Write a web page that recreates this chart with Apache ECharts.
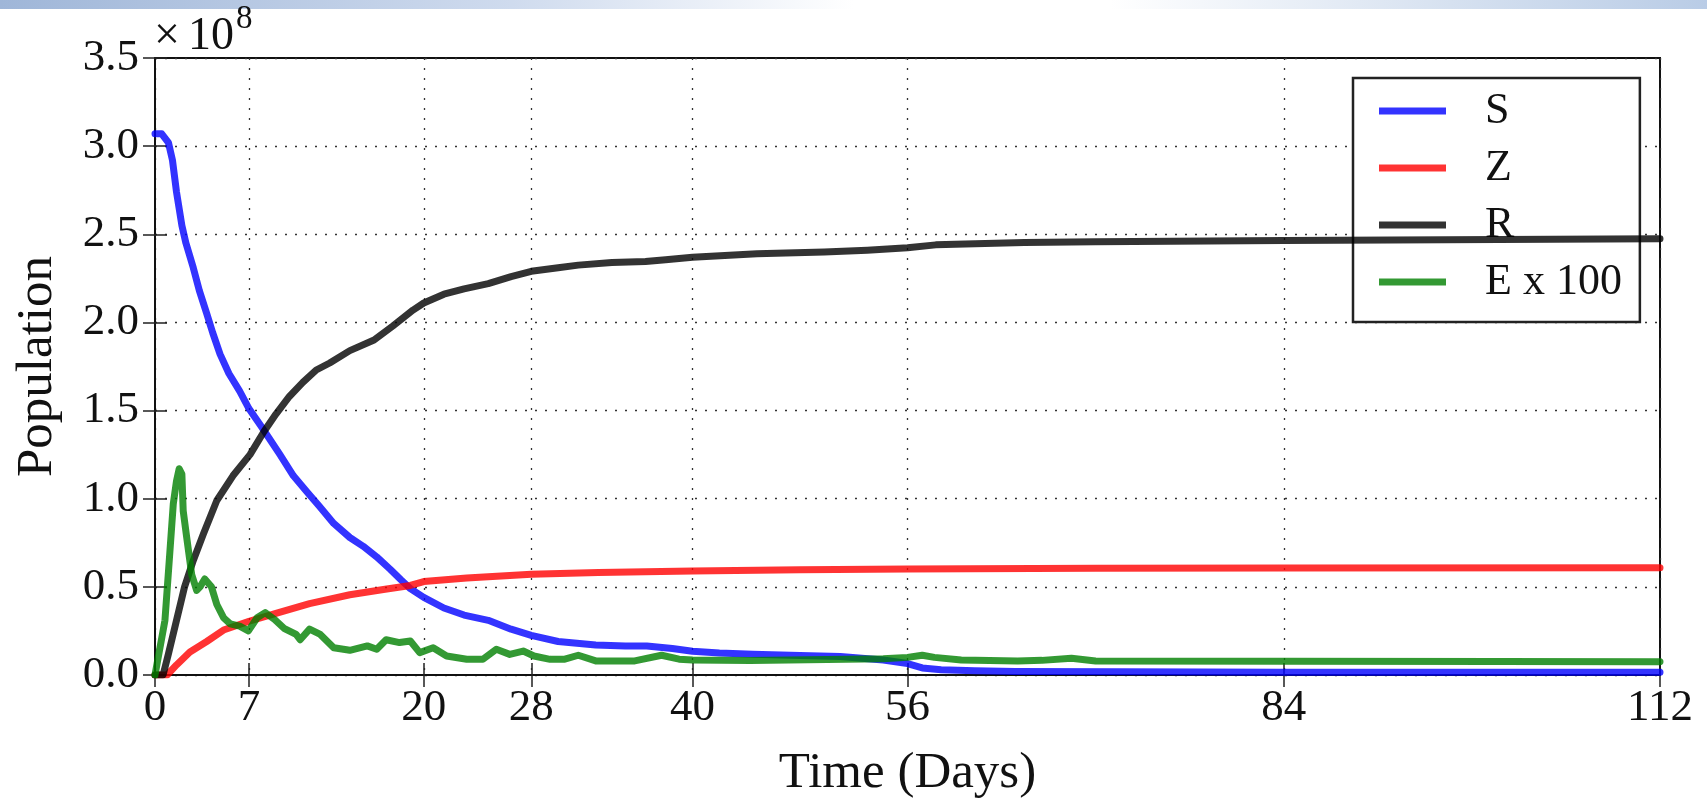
<!DOCTYPE html>
<html>
<head>
<meta charset="utf-8">
<script src="https://cdn.jsdelivr.net/npm/echarts@6/dist/echarts.min.js"></script>
<style>
html,body{margin:0;padding:0;background:#fff;}
#chart{width:1707px;height:799px;}
</style>
</head>
<body>
<div id="chart"></div>
<script>
// Values are in units of 1e8 (axis shows "x10^8")
const xTicks = [0, 7, 20, 28, 40, 56, 84, 112];
const yTickLabels = ['0.0','0.5','1.0','1.5','2.0','2.5','3.0','3.5'];
const seriesNames = ['S', 'Z', 'R', 'E x 100'];

const sDays = [0,0.5,1.0,1.3,1.6,2.0,2.3,2.85,3.3,3.85,4.3,4.84,5.5,6.3,7.0,8.0,9.3,10.3,11.3,12.2,13.3,14.5,15.5,16.5,17.5,18.3,19.0,20.0,21.5,23.0,24.8,26.5,28.0,30.0,32.8,35.0,36.6,38.5,40.0,42.0,44.5,48.0,51.0,54.2,56.0,57.1,58.5,61.0,64.0,72.0,84.0,112];
const sValues = [3.07,3.07,3.02,2.92,2.74,2.55,2.45,2.31,2.18,2.05,1.94,1.82,1.71,1.61,1.51,1.40,1.25,1.13,1.04,0.96,0.86,0.78,0.73,0.67,0.60,0.54,0.49,0.44,0.38,0.34,0.31,0.26,0.225,0.19,0.17,0.165,0.165,0.15,0.135,0.125,0.118,0.11,0.105,0.085,0.065,0.04,0.03,0.024,0.02,0.018,0.016,0.015];

const zDays = [0,0.9,1.6,2.6,3.85,5.1,7.0,9.0,11.5,14.5,17.0,19.0,20.0,23.2,28.0,33.0,40.0,48.0,56.0,70.0,84.0,112];
const zValues = [0,0,0.057,0.13,0.19,0.255,0.305,0.35,0.405,0.455,0.485,0.508,0.53,0.55,0.572,0.582,0.59,0.597,0.602,0.606,0.607,0.608];

const rDays = [0,0.6,1.0,1.6,2.2,2.85,3.6,4.6,5.8,7.07,8.1,9.0,10.0,11.0,12.0,13.0,14.5,16.3,17.7,19.2,20.0,21.5,23.0,24.8,26.5,28.0,30.0,31.5,34.0,36.5,38.0,40.0,44.8,49.8,53.0,56.0,58.1,64.7,70.0,84.0,100.0,112];
const rValues = [0,0,0.12,0.31,0.5,0.65,0.80,0.99,1.13,1.25,1.38,1.48,1.58,1.66,1.73,1.77,1.84,1.90,1.98,2.07,2.11,2.16,2.19,2.22,2.26,2.29,2.31,2.325,2.34,2.345,2.355,2.37,2.39,2.40,2.41,2.424,2.44,2.453,2.458,2.465,2.47,2.475];

const eDays = [0,0.12,0.74,1.1,1.36,1.6,1.8,2.0,2.1,2.36,2.73,3.1,3.35,3.7,4.2,4.6,5.1,5.6,6.3,6.95,7.6,8.2,8.9,9.6,10.5,10.8,11.5,12.3,13.3,14.5,15.8,16.5,17.2,18.2,19.0,19.7,20.7,21.7,23.2,24.4,25.4,26.4,27.4,28.2,29.4,30.5,31.5,32.8,35.7,37.7,39.0,40.0,44.3,50.0,54.2,56.0,57.1,58.0,60.0,64.2,66.0,68.2,70.0,84.0,100.0,112];
const eValues = [0,0,0.31,0.69,0.97,1.1,1.17,1.14,0.93,0.78,0.57,0.48,0.5,0.545,0.5,0.40,0.325,0.29,0.277,0.25,0.325,0.354,0.315,0.265,0.23,0.2,0.26,0.23,0.155,0.14,0.165,0.146,0.2,0.184,0.193,0.127,0.155,0.108,0.089,0.089,0.146,0.117,0.136,0.108,0.089,0.09,0.112,0.08,0.08,0.112,0.09,0.085,0.082,0.088,0.092,0.1,0.112,0.1,0.085,0.08,0.083,0.095,0.08,0.078,0.077,0.075];

const colors = ['rgba(0,0,255,0.8)','rgba(255,0,0,0.8)','rgba(0,0,0,0.8)','rgba(0,128,0,0.8)'];

function zip(a, b){ return a.map((d, i) => [d, b[i]]); }
const allData = [zip(sDays, sValues), zip(zDays, zValues), zip(rDays, rValues), zip(eDays, eValues)];

const FONT = '"Liberation Serif", "DejaVu Serif", serif';
const chart = echarts.init(document.getElementById('chart'));

const dotted = {color:'#333', width:1.3, type:[2,8]};
const tick = {show:true, inside:true, length:12, lineStyle:{color:'#222', width:1.5}};
const axLine = {show:true, lineStyle:{color:'#111', width:2}};

chart.setOption({
  animation:false,
  backgroundColor:'#fff',
  graphic:[
    {type:'rect', left:0, top:0, shape:{width:1707, height:9}, style:{fill:new echarts.graphic.LinearGradient(0,0,1,0,[
      {offset:0, color:'#9fb6d8'},{offset:0.3, color:'#cfdbee'},{offset:0.5, color:'#ffffff'},{offset:0.65, color:'#ffffff'},{offset:0.85, color:'#d6e1f0'},{offset:1, color:'#b9cce6'}])}, z:-1},
    {type:'text', left:154, top:14, style:{text:'×', font:'46px ' + FONT, fill:'#111'}},
    {type:'text', left:188, top:14, style:{text:'10', font:'46px ' + FONT, fill:'#111'}},
    {type:'text', left:236, top:3, style:{text:'8', font:'33px ' + FONT, fill:'#111'}}
  ],
  grid:{left:155, right:47, top:58, bottom:124, outerBoundsMode:'none', containLabel:false,
        show:true, borderColor:'#111', borderWidth:2, backgroundColor:'transparent'},
  legend:{
    show:true, orient:'vertical', left:1353, top:78,
    data:seriesNames, selectedMode:false,
    icon:'rect', itemWidth:67, itemHeight:7, itemGap:13,
    padding:[11,18,18,26],
    backgroundColor:'#fff', borderColor:'#222', borderWidth:2.5,
    textStyle:{fontFamily:FONT, fontSize:44, color:'#111', padding:[0,0,0,34]}
  },
  xAxis:[
    {type:'value', min:0, max:112, position:'bottom',
     name:'Time (Days)', nameLocation:'middle', nameGap:73,
     nameTextStyle:{fontFamily:FONT, fontSize:51, color:'#111'},
     axisLine:axLine, axisTick:Object.assign({customValues:xTicks}, tick),
     axisLabel:{customValues:xTicks, fontFamily:FONT, fontSize:45, color:'#111', margin:11},
     splitLine:{show:true, lineStyle:dotted}},
    {type:'value', min:0, max:112, position:'top',
     axisLine:axLine, axisTick:Object.assign({customValues:xTicks}, tick),
     axisLabel:{show:false}, splitLine:{show:false}}
  ],
  yAxis:[
    {type:'value', min:0, max:3.5, interval:0.5, position:'left',
     name:'Population', nameLocation:'middle', nameGap:92,
     nameTextStyle:{fontFamily:FONT, fontSize:51, color:'#111'},
     axisLine:axLine, axisTick:tick,
     axisLabel:{fontFamily:FONT, fontSize:45, color:'#111', margin:16,
       formatter:(v) => yTickLabels[Math.round(v/0.5)]},
     splitLine:{show:true, lineStyle:dotted}},
    {type:'value', min:0, max:3.5, interval:0.5, position:'right',
     axisLine:axLine, axisTick:tick, axisLabel:{show:false}, splitLine:{show:false}}
  ],
  series: seriesNames.map((n, i) => ({
    name:n, type:'line', data:allData[i], xAxisIndex:0, yAxisIndex:0,
    showSymbol:false, symbol:'none', smooth:false,
    itemStyle:{color:colors[i]},
    lineStyle:{color:colors[i], width:7, cap:'round', join:'round'},
    z:2+i
  }))
});
</script>
</body>
</html>
